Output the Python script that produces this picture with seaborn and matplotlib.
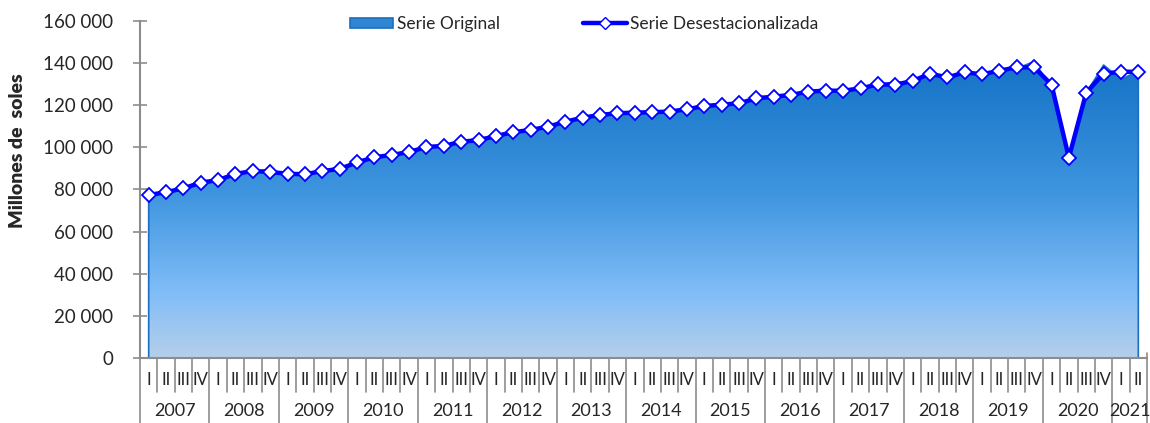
import numpy as np
import pandas as pd
import matplotlib
matplotlib.use("Agg")
import matplotlib.pyplot as plt
import seaborn as sns
from matplotlib.colors import LinearSegmentedColormap
from matplotlib.lines import Line2D
from matplotlib.patches import Patch
from matplotlib.ticker import FuncFormatter
import matplotlib.transforms as mtransforms

# quarters 2007-I .. 2021-II
years = ['2007', '2008', '2009', '2010', '2011', '2012', '2013', '2014',
         '2015', '2016', '2017', '2018', '2019', '2020', '2021']
quarters = ['I', 'II', 'III', 'IV']
n_q_last = 2

serie_original = [76200, 79000, 80000, 84700,
                  83300, 87700, 88200, 89800,
                  86300, 87500, 88200, 91200,
                  91700, 95600, 95800, 99300,
                  99000, 101000, 102100, 104900,
                  104200, 107500, 107700, 111300,
                  111000, 114400, 114800, 117700,
                  115300, 117000, 116400, 119600,
                  118400, 120600, 120300, 124800,
                  122900, 125200, 125900, 128400,
                  125700, 128300, 129300, 131300,
                  130300, 135300, 132600, 137100,
                  133500, 136700, 137400, 140800,
                  128300, 95000, 125800, 139100,
                  132300, 136200]

serie_desest = [77400, 78700, 80600, 83200,
                84500, 87400, 88800, 88300,
                87500, 87200, 88800, 89700,
                92900, 95300, 96400, 97800,
                100200, 100700, 102700, 103400,
                105400, 107200, 108300, 109800,
                112200, 114100, 115400, 116200,
                116500, 116700, 117000, 118100,
                119600, 120300, 120900, 123300,
                124100, 124900, 126500, 126900,
                126900, 128000, 129900, 129800,
                131500, 135000, 133200, 135600,
                134700, 136400, 138000, 138000,
                129800, 95100, 126000, 135000,
                135900, 135900]

q_labels = []
for y in years[:-1]:
    q_labels += quarters
q_labels += quarters[:n_q_last]

df = pd.DataFrame({'pos': np.arange(len(q_labels)),
                   'original': serie_original,
                   'desest': serie_desest})

sns.set_style('white')
plt.rcParams['font.family'] = ['Lato', 'DejaVu Sans']

fig = plt.figure(figsize=(11.5, 4.23), dpi=100)
ax = fig.add_axes([140/1150, 65/423, 1007/1150, 337/423])

# area with vertical gradient
grad = LinearSegmentedColormap.from_list('g', [(0.0, '#b6cfea'), (0.22, '#80bdf8'),
                                                (0.55, '#3f95df'), (1.0, '#1472c6')])
fb = ax.fill_between(df['pos'], 0, df['original'], facecolor='none',
                     edgecolor='#1b6ec2', lw=1.2, zorder=2)
img = ax.imshow(np.linspace(0, 1, 256).reshape(-1, 1), cmap=grad, origin='lower',
                aspect='auto', extent=(-0.5, len(q_labels) - 0.5, 0, 141000), zorder=1)
img.set_clip_path(fb.get_paths()[0], transform=ax.transData)

sns.lineplot(data=df, x='pos', y='desest', ax=ax, color='#0000ff', lw=3.2,
             marker='D', markersize=7.5, markerfacecolor='white',
             markeredgecolor='#0000ff', markeredgewidth=1.3, zorder=3)

ax.set_xlim(-0.5, len(q_labels) - 0.5)
ax.set_ylim(0, 160000)
ax.set_yticks(np.arange(0, 160001, 20000))
ax.yaxis.set_major_formatter(FuncFormatter(lambda v, p: f'{v:,.0f}'.replace(',', ' ')))
ax.tick_params(axis='y', direction='inout', length=10, width=1.2, color='#8c8c8c',
               labelsize=13.5, pad=14, left=True)
ax.set_xticks([])
ax.set_xlabel('')
ax.set_ylabel('')
for s in ['top', 'right']:
    ax.spines[s].set_visible(False)
for s in ['left', 'bottom']:
    ax.spines[s].set_color('#8c8c8c')
    ax.spines[s].set_linewidth(1.5)

# category axis: quarter and year rows
trans = mtransforms.blended_transform_factory(ax.transData, ax.transAxes)
for k in range(len(q_labels) + 1):
    is_year = (k % 4 == 0) or k == len(q_labels)
    y_end = -0.195 if is_year else -0.102
    ax.plot([k - 0.5, k - 0.5], [0.015, y_end], color='#8c8c8c', lw=1.2,
            transform=trans, clip_on=False, zorder=0)
for k, q in enumerate(q_labels):
    ax.text(k, -0.066, q, transform=trans, ha='center', va='center', fontsize=12)
for i, y in enumerate(years):
    n = 4 if i < len(years) - 1 else n_q_last
    ax.text(i * 4 + (n - 1) / 2, -0.158, y, transform=trans, ha='center',
            va='center', fontsize=13)

fig.text(18/1150, 0.643, 'Millones de  soles', rotation=90, ha='center', va='center',
         fontsize=14, fontweight='heavy')

handles = [Patch(facecolor='#2f86d3', edgecolor='#1b6ec2', lw=1.2),
           Line2D([], [], color='#0000ff', lw=3.2, marker='D', markersize=6,
                  markerfacecolor='white', markeredgecolor='#0000ff')]
fig.legend(handles, ['Serie Original', 'Serie Desestacionalizada'], loc='center',
           bbox_to_anchor=(0.508, 0.943), ncol=2, frameon=False, fontsize=12.5,
           handlelength=2.5, handleheight=0.55, handletextpad=0.2, columnspacing=4.8)

fig.savefig('out.png', dpi=100)
